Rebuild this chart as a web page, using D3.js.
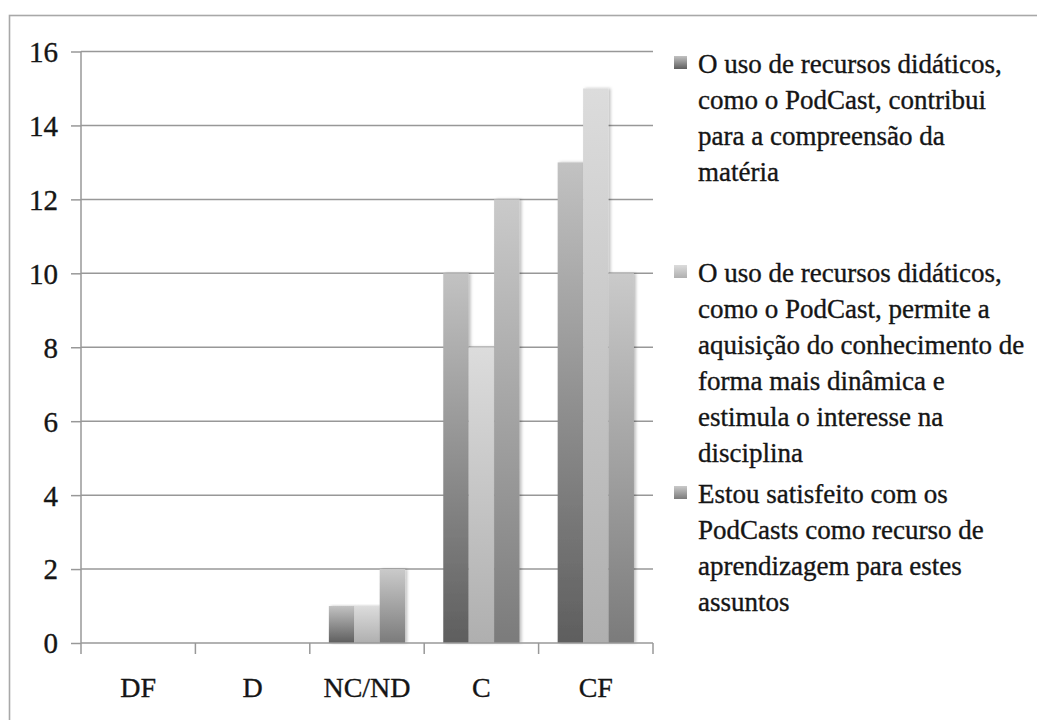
<!DOCTYPE html>
<html>
<head>
<meta charset="utf-8">
<script src="https://d3js.org/d3.v7.min.js"></script>
<style>
  body { margin:0; background:#fff; }
  svg { display:block; }
  text { font-family:"Liberation Serif", "Times New Roman", serif; fill:#151515; stroke:#151515; stroke-width:0.35px; }
</style>
</head>
<body>
<script>
// categories and the three survey statements
var categories = ["DF", "D", "NC/ND", "C", "CF"];
var seriesNames = ["s1", "s2", "s3"];
var series1 = [0, 0, 1, 10, 13];
var series2 = [0, 0, 1, 8, 15];
var series3 = [0, 0, 2, 12, 10];
var yTicks = [0, 2, 4, 6, 8, 10, 12, 14, 16];

var legendLines = [
  ["O uso de recursos didáticos,", "como o PodCast, contribui", "para a compreensão da", "matéria"],
  ["O uso de recursos didáticos,", "como o PodCast, permite a", "aquisição do conhecimento de", "forma mais dinâmica e", "estimula o interesse na", "disciplina"],
  ["Estou satisfeito com os", "PodCasts como recurso de", "aprendizagem para estes", "assuntos"]
];

var width = 1037, height = 720;
var plot = {left:81, right:653, top:51.5, bottom:643};
var gridColor = "#989898";

// bottom / top colour of each series gradient
var gradColors = [["#5e5e5e", "#c2c2c2"], ["#afafaf", "#dcdcdc"], ["#7b7b7b", "#cacaca"]];

var svg = d3.select("body").append("svg").attr("width", width).attr("height", height);

var defs = svg.append("defs");
gradColors.forEach(function(c, i){
  var g = defs.append("linearGradient").attr("id", "grad" + i)
    .attr("x1", 0).attr("y1", 1).attr("x2", 0).attr("y2", 0);
  g.append("stop").attr("offset", "0%").attr("stop-color", c[0]);
  g.append("stop").attr("offset", "100%").attr("stop-color", c[1]);
});
defs.append("filter").attr("id", "shadow")
  .attr("x", "-20%").attr("y", "-5%").attr("width", "150%").attr("height", "110%")
  .append("feDropShadow")
  .attr("dx", 2).attr("dy", 0).attr("stdDeviation", 1.5)
  .attr("flood-color", "#000").attr("flood-opacity", 0.25);

// outer frame (right and bottom edges fall outside the picture)
svg.append("rect")
  .attr("x", 9.5).attr("y", 15.5)
  .attr("width", width).attr("height", height)
  .attr("fill", "none").attr("stroke", "#a8a8a8").attr("stroke-width", 1.6);

var y = d3.scaleLinear().domain([0, 16]).range([plot.bottom, plot.top]);
var x0 = d3.scaleBand().domain(categories).range([plot.left, plot.right]).padding(0);
var x1 = d3.scaleBand().domain(seriesNames).range([0, x0.bandwidth()])
  .paddingInner(0).paddingOuter(0.75);

// gridlines
svg.append("g").selectAll("line")
  .data(yTicks.filter(function(d){ return d > 0; }))
  .enter().append("line")
  .attr("x1", plot.left).attr("x2", plot.right)
  .attr("y1", function(d){ return y(d); }).attr("y2", function(d){ return y(d); })
  .attr("stroke", gridColor).attr("stroke-width", 1.5);

// bars
var rows = categories.map(function(c, i){
  return {cat:c, values:[series1[i], series2[i], series3[i]]};
});
var groups = svg.append("g").selectAll("g")
  .data(rows).enter().append("g")
  .attr("transform", function(d){ return "translate(" + x0(d.cat) + ",0)"; });
groups.selectAll("rect")
  .data(function(d){ return d.values.map(function(v, j){ return {key:seriesNames[j], v:v, j:j}; }); })
  .enter().filter(function(d){ return d.v > 0; }).append("rect")
  .attr("x", function(d){ return x1(d.key); })
  .attr("width", x1.bandwidth())
  .attr("y", function(d){ return y(d.v); })
  .attr("height", function(d){ return y(0) - y(d.v); })
  .attr("fill", function(d){ return "url(#grad" + d.j + ")"; })
  .attr("filter", "url(#shadow)");

// y axis
var yAxis = d3.axisLeft(y).tickValues(yTicks).tickSize(10).tickPadding(13);
var gy = svg.append("g").attr("transform", "translate(" + plot.left + ",0)").call(yAxis);
gy.select(".domain").attr("stroke", gridColor).attr("stroke-width", 1.5).attr("d", "M0," + plot.top + "V" + plot.bottom);
gy.selectAll(".tick line").attr("stroke", gridColor).attr("stroke-width", 1.5);
gy.selectAll(".tick text")
  .attr("font-family", "Liberation Serif").attr("font-size", 29)
  .attr("dy", "0.34em");

// x axis: ticks on category boundaries
var xAxis = d3.axisBottom(x0).tickSize(0).tickPadding(34);
var gx = svg.append("g").attr("transform", "translate(0," + plot.bottom + ")").call(xAxis);
gx.select(".domain").attr("stroke", gridColor).attr("stroke-width", 1.5).attr("d", "M" + plot.left + ",0H" + plot.right);
gx.selectAll(".tick text")
  .attr("font-family", "Liberation Serif").attr("font-size", 28);
var bounds = categories.map(function(c){ return x0(c); }).concat([plot.right]);
gx.selectAll(".bound").data(bounds).enter().append("line")
  .attr("class", "bound")
  .attr("x1", function(d){ return d; }).attr("x2", function(d){ return d; })
  .attr("y1", 0).attr("y2", 11)
  .attr("stroke", gridColor).attr("stroke-width", 1.5);

// legend
var legendTop = [73, 282, 503];
var lineH = 36;
var legend = svg.append("g");
legendLines.forEach(function(lines, i){
  legend.append("rect")
    .attr("x", 674).attr("y", legendTop[i] - 17)
    .attr("width", 13).attr("height", 13)
    .attr("fill", "url(#grad" + i + ")");
  legend.append("text")
    .attr("font-family", "Liberation Serif")
    .attr("font-size", 27)
    .selectAll("tspan").data(lines).enter().append("tspan")
    .attr("x", 698)
    .attr("y", function(d, k){ return legendTop[i] + k * lineH; })
    .text(function(d){ return d; });
});
</script>
</body>
</html>
